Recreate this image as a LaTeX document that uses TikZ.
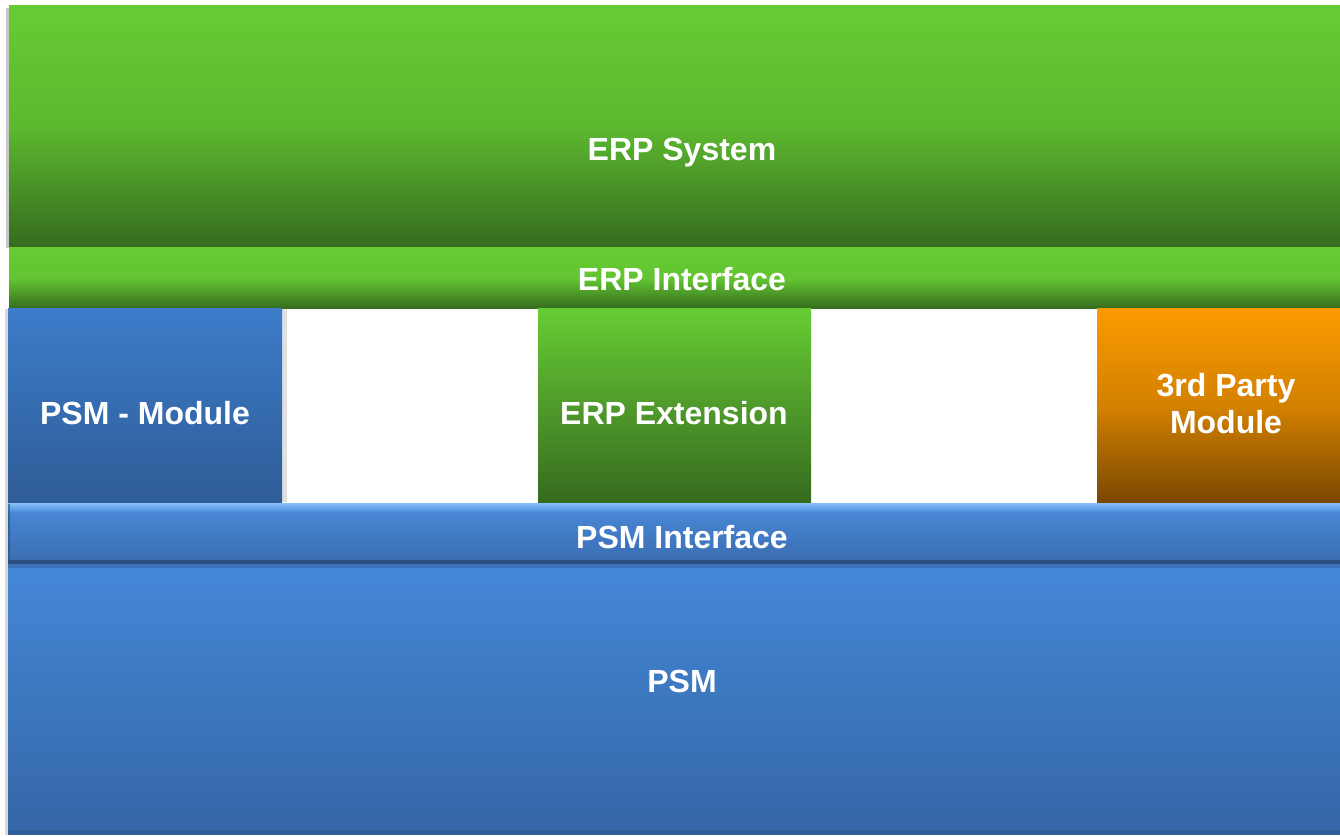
\documentclass[tikz,border=0pt]{standalone}
\usepackage{fontspec}
\setmainfont{Liberation Sans}
\definecolor{gtop}{HTML}{66CC33}
\definecolor{gbot}{HTML}{356A1E}
\definecolor{gmid}{HTML}{4F9A2A}
\definecolor{btop}{HTML}{3C7CCA}
\definecolor{bbot}{HTML}{2F5C96}
\definecolor{otop}{HTML}{FA9A00}
\definecolor{obot}{HTML}{784600}
\definecolor{ptop}{HTML}{4488D8}
\definecolor{pbot}{HTML}{3566A6}
\definecolor{pitop}{HTML}{4A8ADA}
\definecolor{pibot}{HTML}{3A6CB0}
\definecolor{pihl}{HTML}{80BAF5}
\definecolor{pidark}{HTML}{2A4E80}
\tikzset{
  x=1pt,y=1pt,
  lbl/.style={text=white,font=\fontsize{32}{37}\selectfont\bfseries,align=center},
}
\begin{document}
\begin{tikzpicture}
\useasboundingbox (0,0) rectangle (1340,837);
\fill[white] (0,0) rectangle (1340,837);
% shadows on left edges
\fill[black!22] (6,589) rectangle (9,829);
\fill[black!15] (5,2) rectangle (8,528);
\fill[black!12] (282,335) rectangle (287,528);
\fill[black!12] (806,335) rectangle (811,528);
% ERP System
\shade[top color=gtop,bottom color=gbot,middle color=gtop!80!gbot] (9,589) rectangle (1340,831);
\node[lbl] (erpsys) at (682,684) {ERP System};
% ERP Interface
\shade[top color=gtop,bottom color=gbot,middle color=gtop!92!gbot] (9,528) rectangle (1340,589);
\node[lbl] (erpif) at (682,558) {ERP Interface};
% PSM - Module
\shade[top color=btop,bottom color=bbot] (8,333) rectangle (282,528);
\node[lbl] (psmmod) at (145,424) {PSM - Module};
% ERP Extension
\shade[top color=gtop,bottom color=gbot,middle color=gmid] (538,333) rectangle (811,528);
\node[lbl] (erpext) at (674,424) {ERP Extension};
% 3rd Party Module
\shade[top color=otop,bottom color=obot,middle color=otop!70!obot] (1097,333) rectangle (1340,528);
\node[lbl] (third) at (1226,433) {3rd Party\\Module};
% PSM
\shade[top color=ptop,bottom color=pbot] (8,2) rectangle (1340,274);
\fill[pbot!92!black] (8,2) rectangle (1340,7);
% PSM Interface (bevelled)
\shade[top color=pitop,bottom color=pibot] (8,273) rectangle (1340,333);
\shade[top color=pihl,bottom color=pitop] (8,325) rectangle (1340,333);
\fill[pidark] (8,273) rectangle (1340,277);
\fill[pidark,opacity=0.35] (8,269) rectangle (1340,273);
\fill[pidark,opacity=0.6] (8,273) rectangle (10,333);
\node[lbl] (psmif) at (682,300) {PSM Interface};
\node[lbl] (psm) at (682,156) {PSM};
\end{tikzpicture}
\end{document}
